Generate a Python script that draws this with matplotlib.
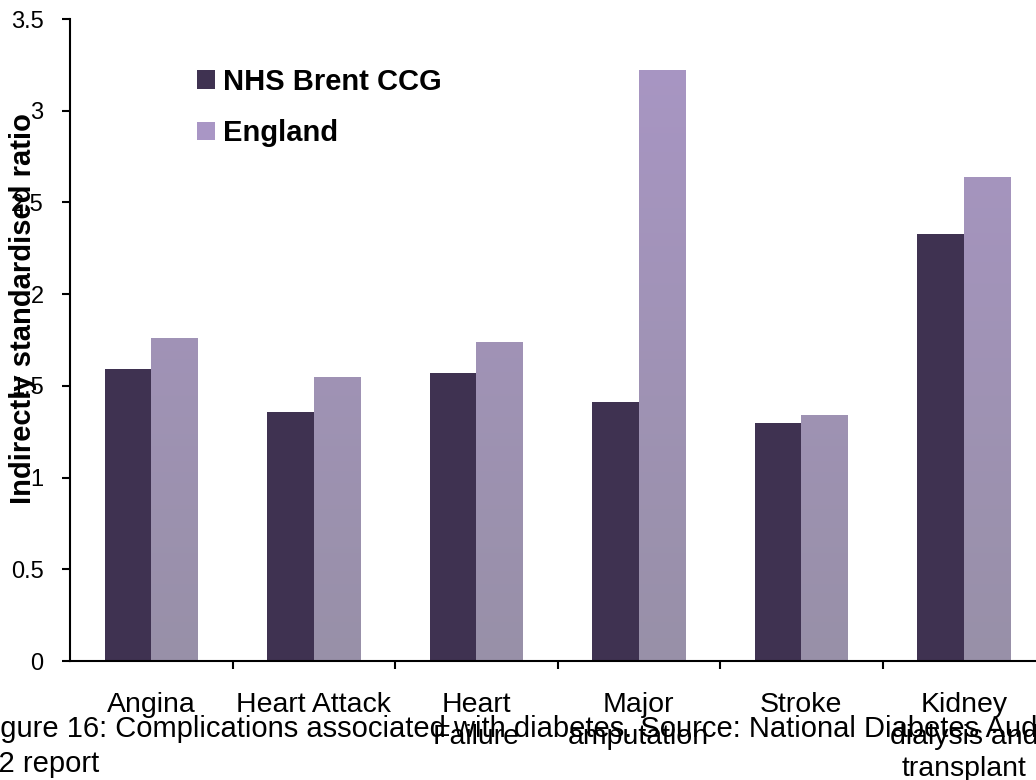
import numpy as np
import matplotlib
matplotlib.use("Agg")
import matplotlib.pyplot as plt
from matplotlib.colors import LinearSegmentedColormap

plt.rcParams['font.family'] = ['Liberation Sans', 'DejaVu Sans']

categories = ["Angina", "Heart Attack", "Heart\nFailure", "Major\namputation",
              "Stroke", "Kidney\ndialysis and\ntransplant"]
brent = [1.59, 1.36, 1.57, 1.41, 1.30, 2.33]
england = [1.76, 1.55, 1.74, 3.22, 1.34, 2.64]
yticks = [0, 0.5, 1, 1.5, 2, 2.5, 3, 3.5]
ytick_labels = ["0", "0.5", "1", "1.5", "2", "2.5", "3", "3.5"]

brent_col = "#3f3251"
eng_top = "#a996c5"
eng_bot = "#9890a8"

fig = plt.figure(figsize=(10.36, 7.8), dpi=100)
ax = fig.add_axes([70 / 1036, 119 / 780, 975 / 1036, 642 / 780])

x = np.arange(len(categories))
w = 0.287
b1 = ax.bar(x - w / 2, brent, w, color=brent_col, label="NHS Brent CCG")
b2 = ax.bar(x + w / 2, england, w, color=eng_top, label="England")

# vertical gradient for the England bars
cmap = LinearSegmentedColormap.from_list("eng", [eng_bot, eng_top])
grad = np.linspace(0, 1, 256).reshape(-1, 1)
for bar in b2:
    bx, bw = bar.get_x(), bar.get_width()
    im = ax.imshow(grad, cmap=cmap, origin="lower", aspect="auto",
                   extent=[bx, bx + bw, 0, 3.5], zorder=bar.get_zorder() + 0.1)
    im.set_clip_path(bar)

ax.set_xlim(-0.5, len(categories) - 0.5)
ax.set_ylim(0, 3.5)
ax.set_yticks(yticks, ytick_labels, fontsize=17)
ax.set_xticks(x, categories, fontsize=20.5, linespacing=1.3)
ax.set_xticks(np.arange(len(categories)) + 0.5, minor=True)
ax.tick_params(axis="x", which="major", length=0, pad=22)
ax.tick_params(axis="x", which="minor", length=6, width=1.5, direction="out")
ax.tick_params(axis="y", length=6, width=1.5, pad=13)
ax.spines["top"].set_visible(False)
ax.spines["right"].set_visible(False)
ax.spines["left"].set_linewidth(1.5)
ax.spines["bottom"].set_linewidth(1.5)

fig.text(23 / 1036, 1 - 309 / 780, "Indirectly standardised ratio", rotation=90,
         fontsize=21, fontweight="bold", ha="center", va="center")

ax.legend(loc="upper left", bbox_to_anchor=(197 / 1036, 1 - 68 / 780),
          bbox_transform=fig.transFigure, frameon=False, borderpad=0,
          borderaxespad=0, prop={"size": 21, "weight": "bold"},
          handlelength=0.6, handleheight=0.6, handletextpad=0.28, labelspacing=0.8)

fig.text(-24 / 1036, 1 - 737 / 780,
         "Figure 16: Complications associated with diabetes. Source: National Diabetes Audit",
         fontsize=21, ha="left", va="baseline")
fig.text(-50 / 1036, 1 - 772 / 780, "2012 report", fontsize=21, ha="left", va="baseline")

fig.savefig("out.png", dpi=100)
